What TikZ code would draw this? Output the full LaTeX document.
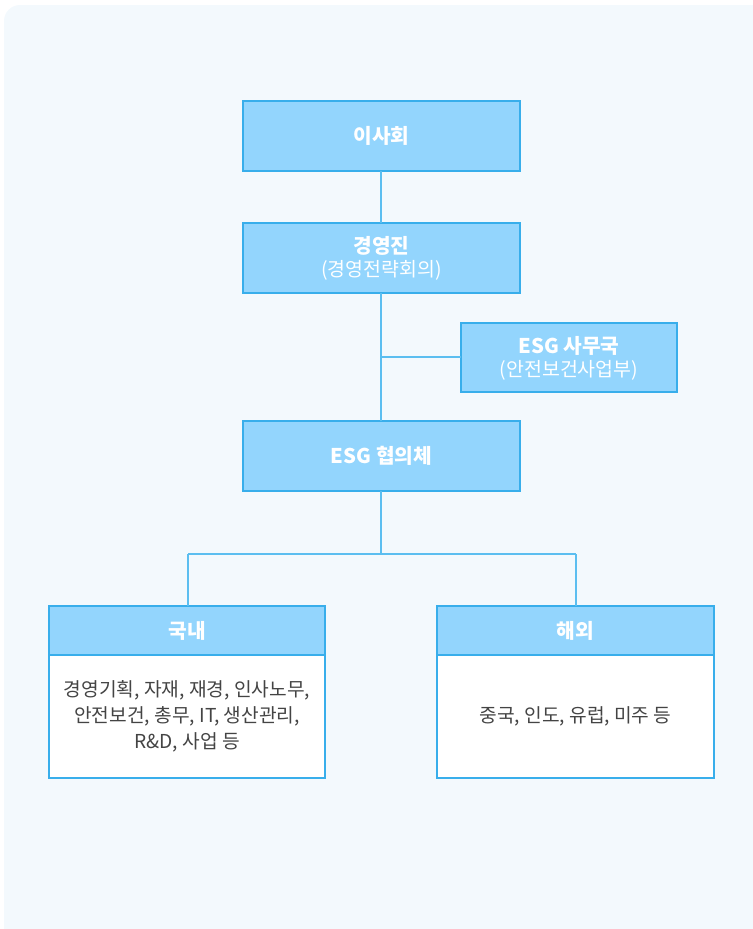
\documentclass[tikz,border=0pt]{standalone}
\usepackage{fontspec}
\setmainfont{Noto Sans CJK KR}
\definecolor{bgc}{HTML}{F3F9FD}
\definecolor{boxfill}{HTML}{93D5FD}
\definecolor{boxline}{HTML}{38AEEB}
\definecolor{linec}{HTML}{5BBEF0}
\definecolor{txtc}{HTML}{444444}
\tikzset{
  bluebox/.style={draw=boxline, fill=boxfill, line width=0.8pt},
  whitebox/.style={draw=boxline, fill=white, line width=0.8pt},
  conn/.style={draw=linec, line width=0.8pt},
  ttl/.style={text=white, font=\bfseries\fontsize{15.2}{18}\selectfont, align=center},
  sub/.style={text=white, font=\fontsize{14.6}{18}\selectfont, align=center},
  bodytxt/.style={text=txtc, font=\fontsize{14.4}{19.5}\selectfont, align=center}
}
\begin{document}
\begin{tikzpicture}[x=0.75pt, y=-0.75pt]
\useasboundingbox (0,0) rectangle (753,929);
\fill[bgc, rounded corners=12pt] (4,5) rectangle (770,945);
% connectors
\coordinate (j1) at (381,357);
\coordinate (j2) at (381,554);
\coordinate (jl) at (188,554);
\coordinate (jr) at (576,554);
% boxes
\path[bluebox] (243,101) rectangle (520,171);
\node[ttl] (isa) at (381.5,136) {이사회};
\path[bluebox] (243,223) rectangle (520,293);
\node[ttl] (gyt) at (381.5,246) {경영진};
\node[sub] (gys) at (381.5,270) {(경영전략회의)};
\path[bluebox] (461,323) rectangle (677,392);
\node[ttl] (esgot) at (569,346) {ESG 사무국};
\node[sub] (esgos) at (569,370) {(안전보건사업부)};
\path[bluebox] (243,421) rectangle (520,491);
\node[ttl] (esgc) at (381.5,456) {ESG 협의체};
% bottom boxes
\path[whitebox] (49,606) rectangle (325,778);
\path[bluebox] (49,606) rectangle (325,655);
\node[ttl] (dom) at (187,631) {국내};
\node[bodytxt] (domb) at (187,716) {경영기획, 자재, 재경, 인사노무,\\안전보건, 총무, IT, 생산관리,\\R\&D, 사업 등};
\path[whitebox] (437,606) rectangle (714,778);
\path[bluebox] (437,606) rectangle (714,655);
\node[ttl] (ovs) at (575.5,631) {해외};
\node[bodytxt] (ovsb) at (575.5,716) {중국, 인도, 유럽, 미주 등};
% connector lines
\draw[conn] (381,171) -- (381,223);
\draw[conn] (381,293) -- (381,421);
\draw[conn] (j1) -- (461,357);
\draw[conn] (381,491) -- (j2);
\draw[conn] (jl) -- (jr);
\draw[conn] (jl) -- (188,606);
\draw[conn] (jr) -- (576,606);
\end{tikzpicture}
\end{document}
